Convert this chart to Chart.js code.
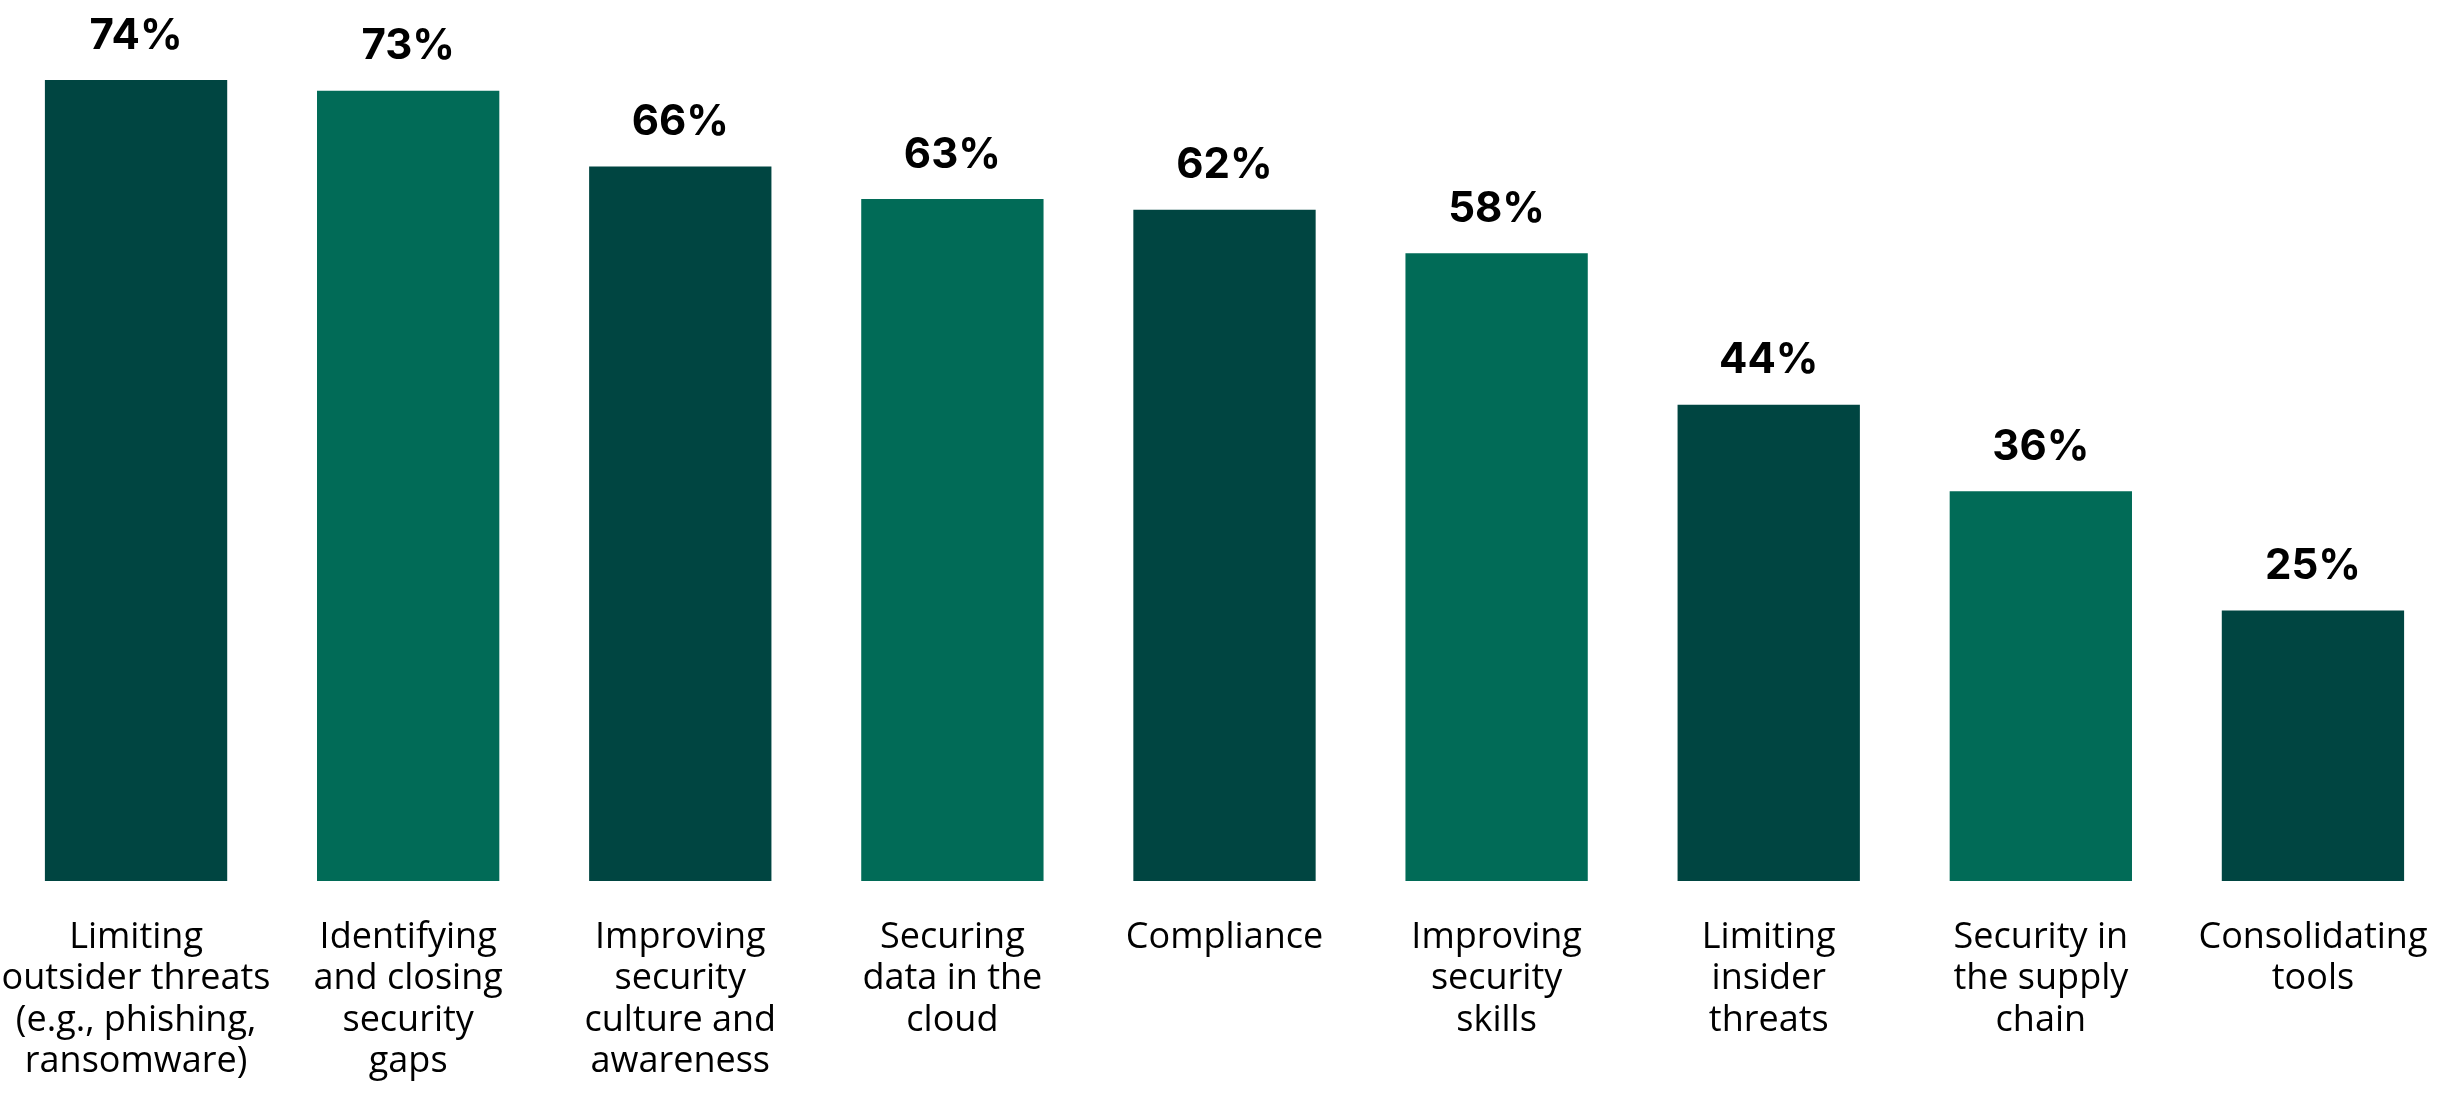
<!DOCTYPE html>
<html>
<head>
<meta charset="utf-8">
<script src="https://cdn.jsdelivr.net/npm/chart.js@4"></script>
<style>
  html, body { margin: 0; padding: 0; background: #fff; overflow: hidden; }
  #wrap { width: 2449px; height: 1094px; }
</style>
</head>
<body>
<div id="wrap"><canvas id="barChart"></canvas></div>
<script>
const categories = [
    ['Limiting', 'outsider threats', '(e.g., phishing,', 'ransomware)'],
    ['Identifying', 'and closing', 'security', 'gaps'],
    ['Improving', 'security', 'culture and', 'awareness'],
    ['Securing', 'data in the', 'cloud'],
    ['Compliance'],
    ['Improving', 'security', 'skills'],
    ['Limiting', 'insider', 'threats'],
    ['Security in', 'the supply', 'chain'],
    ['Consolidating', 'tools']
];
const shares = [74, 73, 66, 63, 62, 58, 44, 36, 25];
const barColors = ['#004541', '#016b57', '#004541', '#016b57', '#004541', '#016b57', '#004541', '#016b57', '#004541'];

// draws the percentage above each bar
const valueLabels = {
    id: 'valueLabels',
    afterDatasetsDraw(chart) {
        const ctx = chart.ctx;
        const meta = chart.getDatasetMeta(0);
        ctx.save();
        ctx.font = 'bold 42px Inter, "Open Sans", sans-serif';
        ctx.fillStyle = '#000';
        ctx.textAlign = 'center';
        ctx.textBaseline = 'middle';
        meta.data.forEach(function (bar, i) {
            ctx.fillText(shares[i] + '%', bar.x, bar.y - 44);
        });
        ctx.restore();
    }
};

const ctx = document.getElementById('barChart').getContext('2d');
new Chart(ctx, {
    type: 'bar',
    data: {
        labels: categories,
        datasets: [{
            data: shares,
            backgroundColor: barColors,
            borderWidth: 0,
            categoryPercentage: 1,
            barPercentage: 0.67
        }]
    },
    options: {
        responsive: true,
        maintainAspectRatio: false,
        animation: false,
        layout: { padding: { top: 15, left: 0, right: 0, bottom: 0 } },
        plugins: {
            legend: { display: false },
            tooltip: { enabled: false }
        },
        scales: {
            x: {
                grid: { display: false, drawTicks: false },
                border: { display: false },
                afterFit: function (scale) {
                    scale.height = 213;
                    scale.paddingLeft = 0;
                    scale.paddingRight = 0;
                },
                ticks: {
                    maxRotation: 0,
                    autoSkip: false,
                    padding: 36,
                    color: '#000',
                    font: { family: '"Open Sans", sans-serif', size: 36, lineHeight: 1.15 }
                }
            },
            y: {
                display: false,
                min: 0,
                max: 80
            }
        }
    },
    plugins: [valueLabels]
});
</script>
</body>
</html>
